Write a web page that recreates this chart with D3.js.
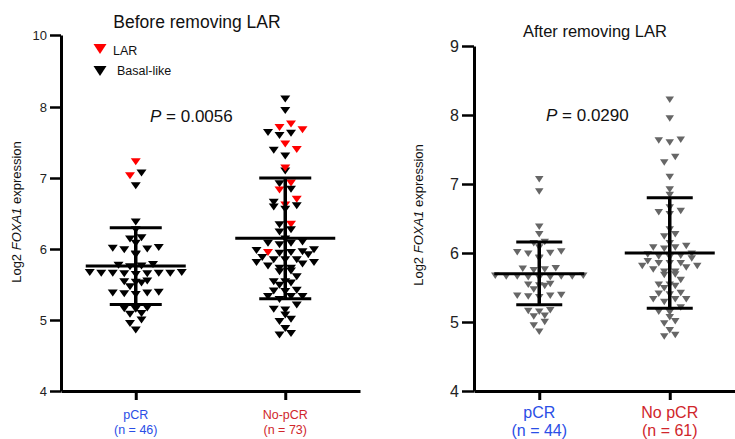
<!DOCTYPE html>
<html>
<head>
<meta charset="utf-8">
<script src="https://cdn.jsdelivr.net/npm/d3@7"></script>
<style>
  body { margin: 0; background: #fff; font-family: Arial, "Liberation Sans", sans-serif; }
  .axis path, .axis line { stroke: #000; }
</style>
</head>
<body>
<div id="chart"></div>
<script>
// ---- data ----
const groupsBefore = ["pCR", "No-pCR"];
const groupsAfter = ["pCR", "No pCR"];
const groupCounts = [[46, 73], [44, 61]];

// basal-like samples (kept after LAR removal)
const pcrBasal = [7.07, 6.89, 6.38, 6.27, 6.16, 6.14, 6.08, 6.01, 6.00, 6.02, 5.99, 5.93, 5.92,
  5.78, 5.77, 5.76, 5.75,
  5.67, 5.66, 5.66, 5.65, 5.66, 5.67, 5.65, 5.66, 5.64,
  5.55, 5.54, 5.53, 5.52, 5.47,
  5.39, 5.38, 5.37, 5.38, 5.36,
  5.16, 5.15, 5.17, 5.09, 5.08, 5.00, 4.95, 4.86];
const noPcrBasal = [8.22, 7.95, 7.64, 7.60, 7.63, 7.39, 7.31, 7.10, 6.92, 6.84, 6.66, 6.59, 6.61, 6.56,
  6.34, 6.24, 6.27,
  6.14, 6.08, 6.06, 6.10, 6.08,
  5.99, 5.95, 5.96, 5.92, 5.98, 5.94,
  5.85, 5.79, 5.85, 5.88, 5.81, 5.85, 5.76, 5.81,
  5.73, 5.69, 5.68, 5.73, 5.61,
  5.54, 5.52, 5.54, 5.49,
  5.40, 5.41, 5.42,
  5.29, 5.33, 5.33, 5.33,
  5.21, 5.14, 5.15, 5.07, 4.98, 5.01, 4.88, 4.79, 4.81];
// LAR samples
const pcrLar = [7.23, 7.03];
const noPcrLar = [7.76, 7.71, 7.68, 7.48, 7.40, 7.14, 6.93, 6.83, 6.70, 6.62, 6.35, 5.95];

// mean and mean +/- SD as drawn
const beforeMean = [5.76, 6.15];
const beforeUpper = [6.30, 7.00];
const beforeLower = [5.22, 5.30];
const afterMean = [5.70, 6.00];
const afterUpper = [6.16, 6.80];
const afterLower = [5.25, 5.20];

const leftTicks = [4, 5, 6, 7, 8, 10];
const rightTicks = [4, 5, 6, 7, 8, 9];
const pValues = ["0.0056", "0.0290"];

const svg = d3.select("#chart").append("svg")
  .attr("width", 735)
  .attr("height", 439);

const blue = "#2a4ee6", red = "#d0262b";

// downward triangle
function tri(w, h) {
  return `M${-w / 2},${-h / 2}L${w / 2},${-h / 2}L0,${h / 2}Z`;
}

// prism-like scatter: bin values into rows, spread each row around the centre
function swarm(points, y, step, rowH) {
  const base = y.range()[0];
  const rows = d3.group(points, p => Math.round((base - y(p.v)) / rowH));
  const out = [];
  rows.forEach(list => {
    list.sort((a, b) => a.v - b.v);
    const n = list.length;
    // alternate placement so that values mix left/right of centre
    const order = d3.range(n).sort((a, b) => Math.abs(a - (n - 1) / 2) - Math.abs(b - (n - 1) / 2));
    list.forEach((p, j) => {
      const slot = order[j];
      out.push({ ...p, py: y(p.v), dx: (slot - (n - 1) / 2) * step });
    });
  });
  return out;
}

function panel(opt) {
  const g = svg.append("g");
  const y = opt.y;
  const x = d3.scalePoint().domain(opt.groups).range(opt.xRange).padding(0.5);

  // axes
  const yAxis = g.append("g").attr("class", "axis")
    .attr("transform", `translate(${opt.xRange[0]},0)`)
    .call(d3.axisLeft(y).tickValues(opt.ticks).tickFormat(d3.format("d"))
      .tickSize(opt.tickLen).tickSizeOuter(0).tickPadding(3));
  yAxis.select(".domain").attr("stroke-width", 3);
  yAxis.selectAll(".tick line").attr("stroke-width", 2.5);
  yAxis.selectAll(".tick text").attr("font-size", opt.tickFont).attr("fill", "#222")
    .attr("font-family", "Arial, Liberation Sans, sans-serif");

  const xAxis = g.append("g").attr("class", "axis")
    .attr("transform", `translate(0,${y.range()[0]})`)
    .call(d3.axisBottom(x).tickSize(9).tickSizeOuter(0).tickFormat(""));
  xAxis.select(".domain").attr("stroke-width", 3);
  xAxis.selectAll(".tick line").attr("stroke-width", 3);

  // category labels
  opt.groups.forEach((c, i) => {
    const t = g.append("text")
      .attr("x", x(c)).attr("text-anchor", "middle")
      .attr("font-size", opt.catFont)
      .attr("fill", i === 0 ? blue : red);
    t.append("tspan").attr("x", x(c)).attr("y", opt.catY[0]).text(c);
    t.append("tspan").attr("x", x(c)).attr("y", opt.catY[1]).text(`(n = ${opt.counts[i]})`);
  });

  // y label
  const yl = g.append("text")
    .attr("transform", `translate(${opt.yLabelX},${opt.yLabelY}) rotate(-90)`)
    .attr("text-anchor", "middle")
    .attr("font-size", 13).attr("fill", "#111");
  yl.append("tspan").text("Log2 ");
  yl.append("tspan").attr("font-style", "italic").text("FOXA1");
  yl.append("tspan").text(" expression");

  // title
  g.append("text")
    .attr("x", opt.titleX).attr("y", opt.titleY)
    .attr("text-anchor", "middle").attr("font-size", opt.titleFont).attr("fill", "#111")
    .text(opt.title);

  // P value
  const pt = g.append("text")
    .attr("x", opt.pX).attr("y", opt.pY)
    .attr("font-size", 17).attr("fill", "#111");
  pt.append("tspan").attr("font-style", "italic").text("P");
  pt.append("tspan").text(" = " + opt.p);

  // points
  opt.groups.forEach((c, i) => {
    const pts = swarm(opt.points[i], y, opt.step, opt.rowH);
    g.selectAll(null).data(pts).enter().append("path")
      .attr("d", tri(opt.triW, opt.triH))
      .attr("transform", d => `translate(${x(c) + d.dx},${d.py})`)
      .attr("fill", d => d.c);

    // mean and SD bars
    const cx = x(c);
    g.append("line").attr("x1", cx).attr("x2", cx)
      .attr("y1", y(opt.upper[i])).attr("y2", y(opt.lower[i]))
      .attr("stroke", "#000").attr("stroke-width", 3.5);
    [[opt.mean[i], opt.meanHalf], [opt.upper[i], opt.sdHalf], [opt.lower[i], opt.sdHalf]].forEach(([v, h]) => {
      g.append("line").attr("x1", cx - h).attr("x2", cx + h)
        .attr("y1", y(v)).attr("y2", y(v))
        .attr("stroke", "#000").attr("stroke-width", 3);
    });
  });
  return { g, x, y };
}

// ---- left panel: before removing LAR ----
const yLeft = d3.scaleLinear().domain([4, 8, 10]).range([391, 107, 35]);
const mk = (vals, c) => vals.map(v => ({ v, c }));
const left = panel({
  y: yLeft, ticks: leftTicks, tickLen: 11, tickFont: 13,
  groups: groupsBefore, counts: groupCounts[0], xRange: [61, 360],
  catFont: 12.5, catY: [419, 434],
  yLabelX: 21, yLabelY: 212,
  title: "Before removing LAR", titleX: 197, titleY: 28, titleFont: 17.5,
  p: pValues[0], pX: 150, pY: 122,
  points: [mk(pcrBasal, "#000").concat(mk(pcrLar, "#ff0000")),
           mk(noPcrBasal, "#000").concat(mk(noPcrLar, "#ff0000"))],
  step: 11.5, rowH: 7, triW: 10, triH: 7,
  mean: beforeMean, upper: beforeUpper, lower: beforeLower, meanHalf: 50, sdHalf: 26
});

// legend
[["LAR", "#ff0000", 49, 113, 55], ["Basal-like", "#000", 71, 117, 75]].forEach(([lab, col, ty, tx, by]) => {
  left.g.append("path").attr("d", tri(13, 10)).attr("transform", `translate(100,${ty})`).attr("fill", col);
  left.g.append("text").attr("x", tx).attr("y", by).attr("font-size", 12.5).attr("fill", "#111").text(lab);
});

// ---- right panel: after removing LAR ----
const yRight = d3.scaleLinear().domain([4, 9]).range([391, 46]);
panel({
  y: yRight, ticks: rightTicks, tickLen: 12, tickFont: 16,
  groups: groupsAfter, counts: groupCounts[1], xRange: [474, 735],
  catFont: 16, catY: [418, 436],
  yLabelX: 423, yLabelY: 215,
  title: "After removing LAR", titleX: 595, titleY: 37, titleFont: 16.5,
  p: pValues[1], pX: 546, pY: 121,
  points: [mk(pcrBasal, "#666"), mk(noPcrBasal, "#666")],
  step: 11, rowH: 6.8, triW: 8.5, triH: 6.5,
  mean: afterMean, upper: afterUpper, lower: afterLower, meanHalf: 45, sdHalf: 23
});
</script>
</body>
</html>
